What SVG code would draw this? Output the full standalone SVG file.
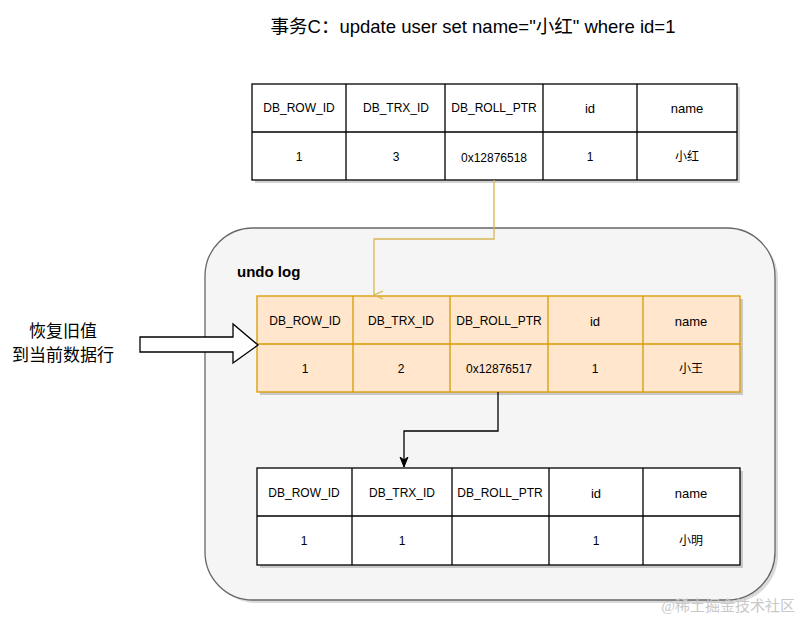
<svg xmlns="http://www.w3.org/2000/svg" width="801" height="620" viewBox="0 0 801 620">
<defs>
<style>
.t{font-family:"Liberation Sans","Noto Sans CJK SC",sans-serif;fill:#000;text-anchor:middle}
.h{font-size:12px}
.d{font-size:12px}
.cell{fill:#fff;stroke:#000;stroke-width:1.3}
.ocell{fill:#ffe6cc;stroke:#d79b00;stroke-width:1.3}
.sh{fill:#000;opacity:0.18}
</style>
<marker id="ay" markerWidth="10" markerHeight="10" refX="5" refY="9" orient="auto-start-reverse" markerUnits="userSpaceOnUse" viewBox="0 0 10 10">
<path d="M1,0 L5,9 L9,0" fill="none" stroke="#d6b656" stroke-width="1.2"/>
</marker>
<marker id="ab" markerWidth="10" markerHeight="10" refX="5" refY="10" orient="0" markerUnits="userSpaceOnUse" viewBox="0 0 10 10">
<path d="M1,0 L5,10 L9,0 L5,3 Z" fill="#000" stroke="#000" stroke-width="1"/>
</marker>
</defs>
<rect width="801" height="620" fill="#fff"/>

<text class="t" x="473" y="33" style="font-size:18.5px">事务C：update user set name="小红" where id=1</text>

<g id="undolog">
<rect x="208" y="231" width="570" height="372" rx="48" fill="#000" opacity="0.15"/>
<rect x="205" y="228" width="570" height="372" rx="48" fill="#f5f5f5" stroke="#666" stroke-width="1.3"/>
<text x="237" y="277" style="font-family:'Liberation Sans',sans-serif;font-size:15px;font-weight:bold">undo log</text>
</g>

<g id="row-current">
<rect class="sh" x="255" y="87" width="485" height="96"/>
<rect class="cell" x="252" y="84" width="485" height="96"/>
<path d="M252,132H737M346,84V180M445,84V180M543,84V180M637,84V180" stroke="#000" stroke-width="1.3" fill="none"/>
<text class="t h" x="299" y="112">DB_ROW_ID</text>
<text class="t h" x="396" y="112">DB_TRX_ID</text>
<text class="t h" x="494" y="112">DB_ROLL_PTR</text>
<text class="t" x="590" y="113" style="font-size:13px">id</text>
<text class="t" x="687" y="113" style="font-size:13px">name</text>
<text class="t d" x="299" y="161">1</text>
<text class="t d" x="396" y="161">3</text>
<text class="t d" x="494" y="162">0x12876518</text>
<text class="t d" x="590" y="161">1</text>
<text class="t d" x="687" y="161">小红</text>
</g>

<g id="row-undo1">
<rect class="sh" x="260" y="299" width="483" height="96"/>
<rect class="ocell" x="257" y="296" width="483" height="96"/>
<path d="M257,344H740M353,296V392M450,296V392M548,296V392M643,296V392" stroke="#d79b00" stroke-width="1.3" fill="none"/>
<text class="t h" x="305" y="325">DB_ROW_ID</text>
<text class="t h" x="401" y="325">DB_TRX_ID</text>
<text class="t h" x="499" y="325">DB_ROLL_PTR</text>
<text class="t" x="595" y="326" style="font-size:13px">id</text>
<text class="t" x="691" y="326" style="font-size:13px">name</text>
<text class="t d" x="305" y="373">1</text>
<text class="t d" x="401" y="373">2</text>
<text class="t d" x="499" y="373">0x12876517</text>
<text class="t d" x="595" y="373">1</text>
<text class="t d" x="691" y="373">小王</text>
</g>

<g id="row-undo2">
<rect class="sh" x="260" y="471" width="483" height="97"/>
<rect class="cell" x="257" y="468" width="483" height="97"/>
<path d="M257,516H740M352,468V565M452,468V565M549,468V565M643,468V565" stroke="#000" stroke-width="1.3" fill="none"/>
<text class="t h" x="304" y="497">DB_ROW_ID</text>
<text class="t h" x="402" y="497">DB_TRX_ID</text>
<text class="t h" x="500" y="497">DB_ROLL_PTR</text>
<text class="t" x="596" y="498" style="font-size:13px">id</text>
<text class="t" x="691" y="498" style="font-size:13px">name</text>
<text class="t d" x="304" y="545">1</text>
<text class="t d" x="402" y="545">1</text>
<text class="t d" x="596" y="545">1</text>
<text class="t d" x="691" y="545">小明</text>
</g>

<g id="restore-arrow">
<path d="M140,337H233V324L258,345L233,363V352H140Z" fill="#fff" stroke="#000" stroke-width="1.3"/>
<text class="t" x="63" y="337" style="font-size:17px">恢复旧值</text>
<text class="t" x="63" y="361" style="font-size:17px">到当前数据行</text>
</g>

<g id="connectors">
<path d="M494,180V239H374V295" fill="none" stroke="#d6b656" stroke-width="1.3" marker-end="url(#ay)"/>
<path d="M498,392V431H404V467" fill="none" stroke="#000" stroke-width="1.3" marker-end="url(#ab)"/>
</g>

<text x="795" y="611" style="font-family:'Liberation Serif','Noto Sans CJK SC',serif;font-size:15px;fill:#c8c8c8;text-anchor:end">@稀土掘金技术社区</text>
</svg>
